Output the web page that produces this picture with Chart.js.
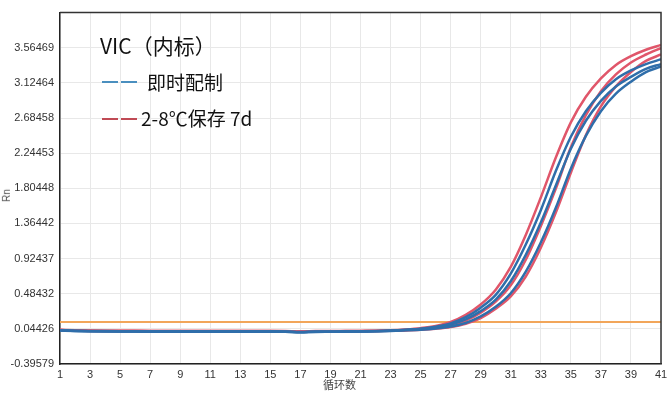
<!DOCTYPE html>
<html>
<head>
<meta charset="utf-8">
<script src="https://cdn.jsdelivr.net/npm/chart.js@4.4.1/dist/chart.umd.min.js"></script>
<style>
  body { margin: 0; background: #fff; }
  #wrap { position: relative; width: 672px; height: 394px; }
  .lg { position: absolute; font-family: "Noto Sans CJK SC", "Noto Sans", sans-serif; color: #111; white-space: nowrap; }
  .dash { position: absolute; height: 1.5px; width: 16px; }
  #xtitle { position: absolute; left: 323px; top: 376px; font-family: "Noto Sans CJK SC", sans-serif; font-size: 11px; color: #444; }
  #ytitle { position: absolute; left: 0px; top: 190px; font-family: "Liberation Sans", Arial, sans-serif; font-size: 10px; color: #555; transform: rotate(-90deg); }
</style>
</head>
<body>
<div id="wrap">
  <canvas id="myChart" width="672" height="394"></canvas>
  <div class="lg" style="left:100px; top:30px; font-size:21px;">VIC（内标）</div>
  <div class="dash" style="left:102px; top:81px; background:#4a8fbf;"></div>
  <div class="dash" style="left:121px; top:81px; background:#4a8fbf;"></div>
  <div class="lg" style="left:147px; top:68px; font-size:19px;">即时配制</div>
  <div class="dash" style="left:102px; top:118px; background:#c04a55;"></div>
  <div class="dash" style="left:121px; top:118px; background:#c04a55;"></div>
  <div class="lg" style="left:141px; top:104px; font-size:19px;">2-8℃保存 7d</div>
  <div id="xtitle">循环数</div>
  <div id="ytitle">Rn</div>
</div>
<script>
// cycles
var cycles = [1,2,3,4,5,6,7,8,9,10,11,12,13,14,15,16,17,18,19,20,21,22,23,24,25,26,27,28,29,30,31,32,33,34,35,36,37,38,39,40,41];

// y tick values (Rn)
var yTicks = [-0.39579, 0.04426, 0.48432, 0.92437, 1.36442, 1.80448, 2.24453, 2.68458, 3.12464, 3.56469, 4.00474];

var threshold = 0.13;

// 即时配制 (blue)
var fresh1 = [0.028,0.022,0.018,0.016,0.015,0.015,0.014,0.014,0.014,0.013,0.013,0.013,0.013,0.013,0.013,0.012,0.006,0.011,0.012,0.013,0.015,0.018,0.024,0.034,0.047,0.072,0.113,0.19,0.31,0.47,0.735,1.10,1.53,2.02,2.45,2.77,3.00,3.17,3.28,3.36,3.42];
var fresh2 = [0.026,0.019,0.015,0.013,0.012,0.012,0.011,0.011,0.011,0.010,0.010,0.010,0.010,0.010,0.010,0.009,0.003,0.008,0.009,0.010,0.012,0.015,0.022,0.031,0.042,0.063,0.097,0.162,0.266,0.41,0.64,0.97,1.375,1.84,2.30,2.65,2.90,3.08,3.20,3.30,3.36];
var fresh3 = [0.024,0.017,0.013,0.011,0.010,0.010,0.009,0.009,0.009,0.008,0.008,0.008,0.008,0.008,0.008,0.007,0.001,0.006,0.007,0.008,0.010,0.013,0.019,0.026,0.034,0.049,0.074,0.118,0.20,0.32,0.49,0.76,1.125,1.56,2.05,2.46,2.77,2.99,3.14,3.26,3.33];

// 2-8℃保存 7d (red)
var stored1 = [0.032,0.026,0.023,0.021,0.020,0.020,0.019,0.019,0.019,0.018,0.018,0.018,0.018,0.018,0.018,0.017,0.012,0.016,0.017,0.017,0.019,0.021,0.027,0.037,0.053,0.08,0.13,0.22,0.35,0.535,0.82,1.22,1.69,2.19,2.63,2.95,3.18,3.35,3.46,3.54,3.60];
var stored2 = [0.030,0.024,0.021,0.019,0.018,0.018,0.017,0.017,0.017,0.016,0.016,0.016,0.016,0.016,0.016,0.015,0.010,0.015,0.015,0.016,0.017,0.019,0.023,0.030,0.040,0.060,0.090,0.147,0.247,0.386,0.59,0.91,1.33,1.80,2.32,2.72,3.02,3.23,3.38,3.48,3.56];
var stored3 = [0.029,0.023,0.019,0.017,0.016,0.016,0.015,0.015,0.015,0.014,0.014,0.014,0.014,0.014,0.014,0.013,0.008,0.013,0.013,0.014,0.015,0.017,0.020,0.025,0.033,0.046,0.067,0.107,0.18,0.296,0.45,0.70,1.06,1.50,2.00,2.47,2.83,3.08,3.26,3.40,3.48];

var blue = "#2f6eaa";
var red = "#e0566a";

function toPoints(arr) {
    return cycles.map(function (c, i) { return { x: c, y: arr[i] }; });
}

function curve(arr, color) {
    return {
        data: toPoints(arr),
        borderColor: color,
        borderWidth: 2.5,
        pointRadius: 0,
        cubicInterpolationMode: "monotone",
        fill: false
    };
}

// first datasets are drawn on top, so blue ends up over red on the baseline
var datasets = [
    curve(fresh1, blue),
    curve(fresh2, blue),
    curve(fresh3, blue),
    curve(stored1, red),
    curve(stored2, red),
    curve(stored3, red),
    {
        data: [{ x: cycles[0], y: threshold }, { x: cycles[cycles.length - 1], y: threshold }],
        borderColor: "#f2a65a",
        borderWidth: 2,
        pointRadius: 0
    }
];

const ctx = document.getElementById('myChart');

new Chart(ctx, {
    type: "line",
    data: { datasets: datasets },
    options: {
        responsive: false,
        animation: false,
        layout: { padding: { top: 4, right: 11, left: 0, bottom: 0 } },
        plugins: { legend: { display: false }, tooltip: { enabled: false } },
        scales: {
            x: {
                type: "linear",
                min: 1,
                max: 41,
                border: { color: "#222", width: 1.5 },
                grid: { color: "#e8e8e8", drawTicks: false },
                ticks: {
                    stepSize: 2,
                    padding: 4,
                    maxRotation: 0,
                    color: "#333",
                    font: { family: "Liberation Sans, Arial", size: 11 }
                },
                afterFit: function (scale) { scale.height = 30; }
            },
            y: {
                min: yTicks[0],
                max: yTicks[yTicks.length - 1],
                border: { color: "#222", width: 1.5 },
                grid: { color: "#e8e8e8", drawTicks: false },
                afterBuildTicks: function (scale) {
                    scale.ticks = yTicks.map(function (v) { return { value: v }; });
                },
                ticks: {
                    padding: 6,
                    color: "#333",
                    font: { family: "Liberation Sans, Arial", size: 11 },
                    callback: function (v) {
                        if (v === yTicks[yTicks.length - 1]) return "";
                        return v.toFixed(5);
                    }
                },
                afterFit: function (scale) { scale.width = 60; }
            }
        }
    },
    plugins: [{
        id: "frame",
        afterDraw: function (chart) {
            var a = chart.chartArea, c = chart.ctx;
            c.save();
            c.strokeStyle = "#333";
            c.lineWidth = 1.5;
            c.beginPath();
            c.moveTo(a.left, a.top);
            c.lineTo(a.right, a.top);
            c.lineTo(a.right, a.bottom);
            c.stroke();
            c.restore();
        }
    }]
});
</script>
</body>
</html>
